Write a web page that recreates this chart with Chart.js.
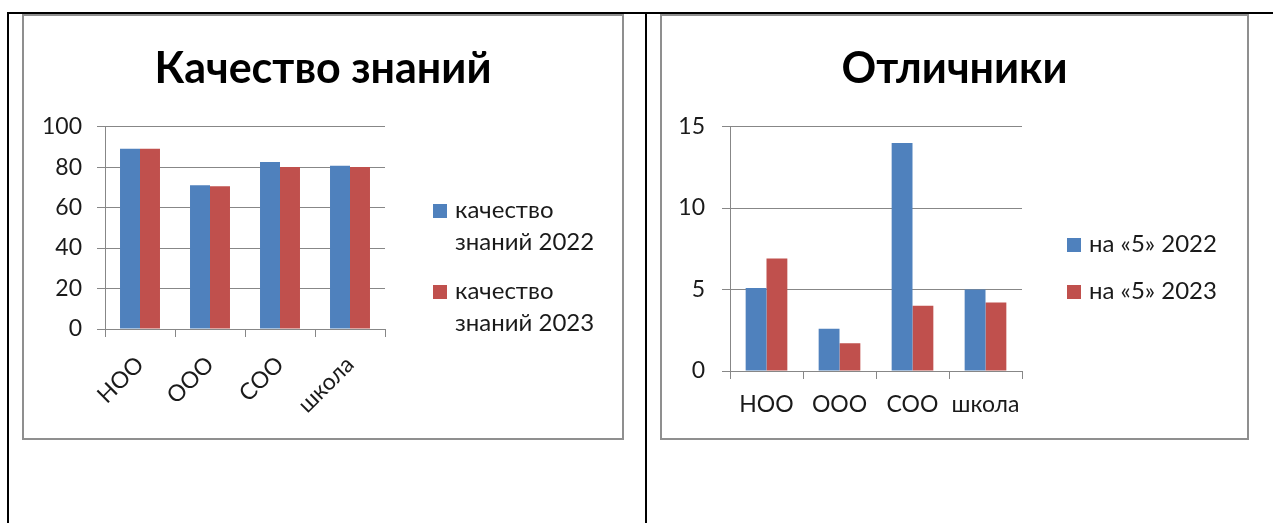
<!DOCTYPE html>
<html>
<head>
<meta charset="utf-8">
<script src="https://cdn.jsdelivr.net/npm/chart.js@4"></script>
<style>
  body { margin: 0; background: #fff; }
  .line { position: absolute; background: #000; }
  .frame { position: absolute; border: 2px solid #8f8f8f; background: #fff; }
  .frame canvas { display: block; }
</style>
</head>
<body>
<div class="line" style="left:7px;top:12px;width:1266px;height:2px"></div>
<div class="line" style="left:7px;top:12px;width:2px;height:511px"></div>
<div class="line" style="left:645px;top:12px;width:2px;height:511px"></div>

<div class="frame" style="left:22px;top:14px;width:598px;height:422px">
  <canvas id="qualityChart" width="598" height="422"></canvas>
</div>
<div class="frame" style="left:660px;top:14px;width:585px;height:422px">
  <canvas id="excellentChart" width="585" height="422"></canvas>
</div>

<script>
const categories = ['НОО', 'ООО', 'СОО', 'школа'];

// качество знаний, %
const quality2022 = [89, 71, 82.5, 80.7];
const quality2023 = [89, 70.5, 80, 80];
const qualityNames = [['качество', 'знаний 2022'], ['качество', 'знаний 2023']];

// отличники
const excellent2022 = [5.1, 2.6, 14, 5];
const excellent2023 = [6.9, 1.7, 4, 4.2];
const excellentNames = [['на «5» 2022'], ['на «5» 2023']];

const BLUE = '#4F81BD';
const RED = '#C0504D';
const GRID = '#878787';
const FONT = 'Lato';

// legend drawn to the right of the plot, like in the Excel chart
const sideLegend = {
    id: 'sideLegend',
    afterDraw(chart, args, opts) {
        const ctx = chart.ctx;
        ctx.save();
        ctx.font = '24px ' + FONT;
        ctx.textBaseline = 'middle';
        chart.data.datasets.forEach((ds, i) => {
            const y = opts.top + i * opts.itemGap;
            ctx.fillStyle = ds.backgroundColor;
            ctx.fillRect(opts.x, y - 7, 14, 14);
            ctx.fillStyle = '#1a1a1a';
            opts.names[i].forEach((t, j) => {
                ctx.fillText(t, opts.x + 22, y - 1 + j * opts.lineGap);
            });
        });
        ctx.restore();
    }
};

function makeChart(id, title, d1, d2, names, yMax, yStep, geo) {
    const ctx = document.getElementById(id).getContext('2d');
    return new Chart(ctx, {
        type: 'bar',
        data: {
            labels: categories,
            datasets: [
                { label: names[0].join(' '), data: d1, backgroundColor: BLUE },
                { label: names[1].join(' '), data: d2, backgroundColor: RED }
            ]
        },
        options: {
            responsive: false,
            animation: false,
            categoryPercentage: 0.571,
            barPercentage: 1,
            layout: { padding: 0 },
            plugins: {
                legend: { display: false },
                tooltip: { enabled: false },
                title: {
                    display: true,
                    text: title,
                    color: '#000',
                    font: { family: FONT, size: 43, weight: 'bold' },
                    padding: { top: 27, bottom: 32 }
                },
                sideLegend: { x: geo.legX, top: geo.legTop, itemGap: geo.itemGap, lineGap: 32, names: names }
            },
            scales: {
                x: {
                    grid: { drawOnChartArea: false, drawTicks: true, tickLength: 8, color: GRID },
                    border: { color: GRID },
                    ticks: {
                        color: '#1a1a1a',
                        font: { family: FONT, size: 23 },
                        minRotation: geo.rot, maxRotation: geo.rot,
                        autoSkip: false,
                        padding: geo.xPad
                    },
                    afterFit: s => { s.height = geo.xHeight; }
                },
                y: {
                    min: 0, max: yMax,
                    grid: { color: GRID, tickLength: 8 },
                    border: { color: GRID },
                    ticks: {
                        stepSize: yStep,
                        color: '#1a1a1a',
                        font: { family: FONT, size: 23 },
                        padding: geo.yPad
                    },
                    afterFit: s => { s.width = geo.yWidth; }
                },
                // empty right-hand axis: keeps room for the legend, title stays centred on the whole chart
                legendRoom: {
                    type: 'linear',
                    position: 'right',
                    grid: { display: false },
                    border: { display: false },
                    ticks: { display: false },
                    afterFit: s => { s.width = geo.padRight; }
                }
            }
        },
        plugins: [sideLegend]
    });
}

makeChart('qualityChart', 'Качество знаний', quality2022, quality2023, qualityNames, 100, 20, {
    padRight: 237, yWidth: 81, xHeight: 109, rot: 45, xPad: 14, yPad: 15,
    legX: 409, legTop: 195, itemGap: 81
});

makeChart('excellentChart', 'Отличники', excellent2022, excellent2023, excellentNames, 15, 5, {
    padRight: 225, yWidth: 68, xHeight: 67, rot: 0, xPad: 12, yPad: 17,
    legX: 405, legTop: 229, itemGap: 47
});
</script>
</body>
</html>
